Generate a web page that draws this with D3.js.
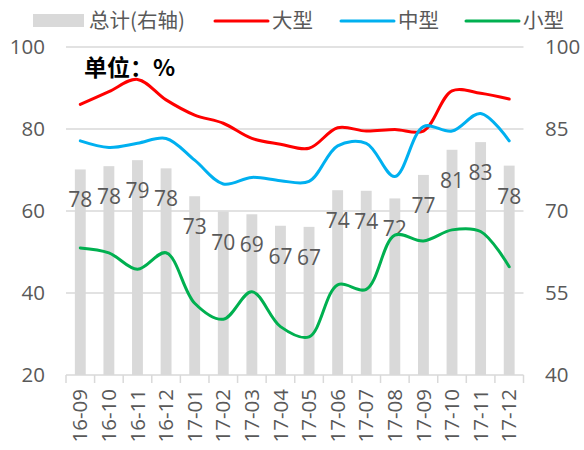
<!DOCTYPE html>
<html><head><meta charset="utf-8">
<script src="https://cdn.jsdelivr.net/npm/d3@7"></script>
<style>body{margin:0;background:#fff}svg{display:block}</style>
</head><body><svg id="c" width="584" height="450"></svg>
<script>
const categories = ["16-09","16-10","16-11","16-12","17-01","17-02","17-03","17-04","17-05","17-06","17-07","17-08","17-09","17-10","17-11","17-12"];
const totalValues = [77.6,78.2,79.3,77.8,72.7,69.9,69.4,67.3,67.1,73.8,73.7,72.3,76.6,81.2,82.6,78.3];
const largeValues = [86.0,89.1,92.1,87.1,83.4,81.4,77.7,76.3,75.3,80.3,79.5,79.9,79.5,89.3,88.7,87.3];
const mediumValues = [77.1,75.5,76.5,77.7,72.4,66.6,68.2,67.4,67.2,75.9,76.5,68.4,80.6,79.5,83.8,77.1];
const smallValues = [51.0,49.8,45.8,49.8,37.5,33.6,40.3,31.8,29.3,42.0,40.9,54.1,52.7,55.4,55.0,46.4];
const leftTicks = [20,40,60,80,100];
const rightTicks = [40,55,70,85,100];
const seriesNames = ["总计(右轴)","大型","中型","小型"];
const seriesColors = ["#d9d9d9","#ff0000","#00b0f0","#00b050"];

const svg = d3.select("#c");
const cjkFont = "'Noto Sans CJK SC', sans-serif";
const numFont = "'Open Sans', 'Noto Sans CJK SC', sans-serif";
const textColor = "#595959";
const gridColor = "#d9d9d9";

const x = d3.scaleBand().domain(categories).range([66, 523.5]).paddingInner(0).paddingOuter(0);
const yL = d3.scaleLinear().domain([20, 100]).range([375, 47]);
const yR = d3.scaleLinear().domain([40, 100]).range([375, 47]);

// gridlines
svg.append("g").selectAll("line").data(leftTicks.filter(d => d > 20)).join("line")
  .attr("x1", 66).attr("x2", 523.5)
  .attr("y1", d => yL(d)).attr("y2", d => yL(d))
  .attr("stroke", gridColor).attr("stroke-width", 1.5);

// bars
const bw = x.bandwidth() * 0.38;
svg.append("g").selectAll("rect").data(totalValues).join("rect")
  .attr("x", (d, i) => x(categories[i]) + x.bandwidth() / 2 - bw / 2)
  .attr("width", bw)
  .attr("y", d => yR(d))
  .attr("height", d => yR(40) - yR(d))
  .attr("fill", seriesColors[0]);

// bar labels
svg.append("g").selectAll("text").data(totalValues).join("text")
  .attr("x", (d, i) => x(categories[i]) + x.bandwidth() / 2)
  .attr("y", d => yR(d) + 38)
  .attr("text-anchor", "middle")
  .attr("font-family", numFont).attr("font-size", 21).attr("fill", textColor)
  .text(d => d3.format(".0f")(d));

// x axis line and ticks
svg.append("line").attr("x1", 66).attr("x2", 523.5).attr("y1", 375).attr("y2", 375)
  .attr("stroke", gridColor).attr("stroke-width", 1.5);
const bounds = categories.map(c => x(c)).concat([x.range()[1]]);
svg.append("g").selectAll("line").data(bounds).join("line")
  .attr("x1", d => d).attr("x2", d => d).attr("y1", 375).attr("y2", 383)
  .attr("stroke", gridColor).attr("stroke-width", 1.5);

// x labels
svg.append("g").selectAll("text").data(categories).join("text")
  .attr("transform", d => `translate(${x(d) + x.bandwidth() / 2},389) rotate(-90)`)
  .attr("dy", "0.35em")
  .attr("text-anchor", "end")
  .attr("font-family", numFont).attr("font-size", 20.5).attr("fill", textColor)
  .text(d => d);

// left axis labels
svg.append("g").selectAll("text").data(leftTicks).join("text")
  .attr("x", 45).attr("y", d => yL(d)).attr("dy", "0.35em")
  .attr("text-anchor", "end")
  .attr("font-family", numFont).attr("font-size", 20.5).attr("fill", textColor)
  .text(d => d);

// right axis labels
svg.append("g").selectAll("text").data(rightTicks).join("text")
  .attr("x", 545).attr("y", d => yR(d)).attr("dy", "0.35em")
  .attr("text-anchor", "start")
  .attr("font-family", numFont).attr("font-size", 20.5).attr("fill", textColor)
  .text(d => d);

// lines
const line = d3.line()
  .x((d, i) => x(categories[i]) + x.bandwidth() / 2)
  .y(d => yL(d))
  .curve(d3.curveCatmullRom.alpha(0.5));
[largeValues, mediumValues, smallValues].forEach((vals, k) => {
  svg.append("path").datum(vals)
    .attr("d", line)
    .attr("fill", "none")
    .attr("stroke", seriesColors[k + 1])
    .attr("stroke-width", 3)
    .attr("stroke-linecap", "round");
});

// unit label
svg.append("text").attr("x", 84).attr("y", 76)
  .attr("font-family", cjkFont).attr("font-size", 23).attr("font-weight", "bold").attr("fill", "#000")
  .text("单位：%");

// legend
const lg = svg.append("g");
const legendItems = [
  {name: seriesNames[0], color: seriesColors[0], type: "rect", x0: 33, x1: 84, tx: 89},
  {name: seriesNames[1], color: seriesColors[1], type: "line", x0: 215, x1: 268, tx: 272},
  {name: seriesNames[2], color: seriesColors[2], type: "line", x0: 341, x1: 394, tx: 398},
  {name: seriesNames[3], color: seriesColors[3], type: "line", x0: 466, x1: 519, tx: 523}
];
legendItems.forEach(it => {
  if (it.type === "rect") {
    lg.append("rect").attr("x", it.x0).attr("y", 14).attr("width", it.x1 - it.x0).attr("height", 13).attr("fill", it.color);
  } else {
    lg.append("line").attr("x1", it.x0).attr("x2", it.x1).attr("y1", 21).attr("y2", 21)
      .attr("stroke", it.color).attr("stroke-width", 3).attr("stroke-linecap", "round");
  }
  lg.append("text").attr("x", it.tx).attr("y", 21).attr("dy", "0.35em")
    .attr("font-family", cjkFont).attr("font-size", 20.5).attr("fill", textColor)
    .text(it.name);
});
</script>
</body></html>
